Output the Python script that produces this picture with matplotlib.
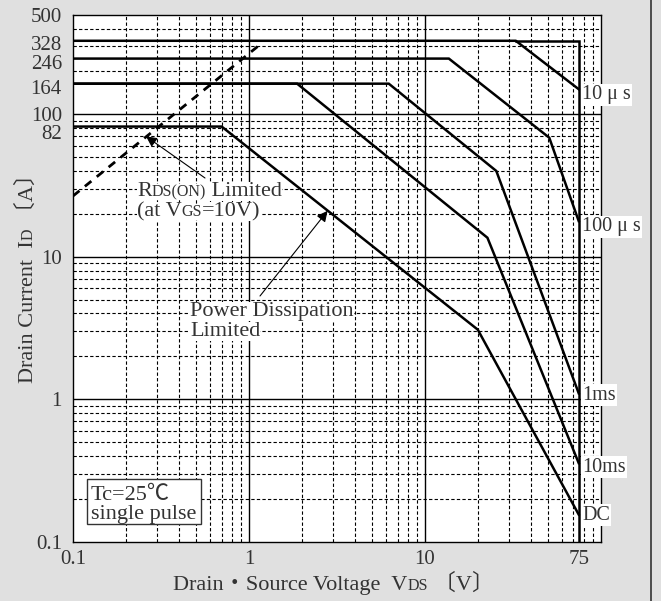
import numpy as np
import matplotlib
matplotlib.use("Agg")
import matplotlib.pyplot as plt
from matplotlib.ticker import FixedLocator, NullFormatter, LogLocator
from matplotlib.transforms import offset_copy, ScaledTranslation
from matplotlib.patches import Rectangle
from matplotlib.lines import Line2D

plt.rcParams['font.family'] = ['Liberation Serif', 'Noto Sans CJK JP', 'DejaVu Sans']

# safe operating area
v_10us = [0.1, 32.9, 75]
i_10us = [328, 328, 150]
v_100us = [0.1, 13.7, 51, 75]
i_100us = [246, 246, 68.5, 17.8]
v_1ms = [0.1, 6.24, 25.5, 75]
i_1ms = [164, 164, 40, 1.1]
v_10ms = [0.1, 1.88, 22.7, 75]
i_10ms = [164, 164, 13.6, 0.356]
v_dc = [0.1, 0.70, 20, 75]
i_dc = [82, 82, 3.08, 0.155]

# RDS(on) limit (dashed)
v_rds = [0.1, 1.17]
i_rds = [26.7, 312]

# outer limits: pulsed drain current and VDSS
v_lim = [32.9, 75, 75]
i_lim = [328, 328, 0.1]

curve_names = ['10 μ s', '100 μ s', '1ms', '10ms', 'DC']
y_ticks = [0.1, 1, 10, 82, 100, 164, 246, 328, 500]
y_ticklabels = ['0.1', '1', '10', '82', '100', '164', '246', '328', '500']
x_ticks = [0.1, 1, 10, 75]
x_ticklabels = ['0.1', '1', '10', '75']

W, H = 661, 601
TXT = '#333333'


def fpx(x, y):
    return x / W, 1 - y / H


fig = plt.figure(figsize=(W / 100, H / 100), dpi=100, facecolor='#e0e0e0')
ax = fig.add_axes([73 / W, 1 - 541.7 / H, (600.7 - 73) / W, (541.7 - 14.7) / H])
ax.set_facecolor('white')
ax.set_xscale('log')
ax.set_yscale('log')
ax.set_xlim(0.1, 100)
ax.set_ylim(0.1, 500)

# grid: dashed minors, solid decades
ax.xaxis.set_minor_locator(LogLocator(base=10, subs=np.arange(2, 10)))
ax.yaxis.set_minor_locator(LogLocator(base=10, subs=np.arange(2, 10)))
ax.xaxis.set_minor_formatter(NullFormatter())
ax.yaxis.set_minor_formatter(NullFormatter())
ax.grid(which='minor', color='black', lw=0.8, ls=(0, (3, 2)))
for d in [1, 10]:
    ax.axvline(d, color='black', lw=1.0)
for d in [1, 10, 100]:
    ax.axhline(d, color='black', lw=1.0)

ax.xaxis.set_major_locator(FixedLocator(x_ticks))
ax.set_xticklabels(x_ticklabels)
ax.yaxis.set_major_locator(FixedLocator(y_ticks))
ax.set_yticklabels(y_ticklabels)
ax.tick_params(which='both', length=0, labelsize=15, colors=TXT)
ax.tick_params(axis='y', pad=8)
ax.tick_params(axis='x', pad=6)
for s in ax.spines.values():
    s.set_linewidth(1.0)

# nudge crowded y labels down a little, like the original
shift = {'82': 5, '164': 3, '246': 3, '328': 2}
for lab in ax.get_yticklabels():
    dy = shift.get(lab.get_text(), 0)
    if dy:
        lab.set_transform(lab.get_transform() +
                          ScaledTranslation(0, -dy / 100, fig.dpi_scale_trans))

lw = 1.8
for v, i in [(v_10us, i_10us), (v_100us, i_100us), (v_1ms, i_1ms),
             (v_10ms, i_10ms), (v_dc, i_dc), (v_lim, i_lim)]:
    ax.plot(v, i, color='black', lw=lw, solid_joinstyle='miter', zorder=3)
ax.plot(v_rds, i_rds, color='black', lw=2.0, ls=(0, (3, 2.5)), zorder=3)

# curve labels on the right
label_y = [95, 227, 395, 467, 515]
for name, yy in zip(curve_names, label_y):
    fig.text(*fpx(582, yy), name, fontsize=14.5, color=TXT, ha='left', va='center',
             bbox=dict(boxstyle='square,pad=0.05', fc='white', ec='none'))


def rich(pieces, x0, y0, rot=0, box=True):
    r = fig.canvas.get_renderer()
    off = 0
    for s, fs in pieces:
        if rot:
            tr = offset_copy(fig.transFigure, fig=fig, x=0, y=off, units='dots')
        else:
            tr = offset_copy(fig.transFigure, fig=fig, x=off, y=0, units='dots')
        kw = {}
        if box:
            kw['bbox'] = dict(boxstyle='square,pad=0', fc='white', ec='none')
        t = fig.text(*fpx(x0, y0), s, fontsize=fs, color=TXT, transform=tr,
                     rotation=rot, rotation_mode='anchor', ha='left',
                     va='baseline', **kw)
        bb = t.get_window_extent(r)
        off += bb.height if rot else bb.width


big, small = 16, 11.5
rich([('R', big), ('DS(ON)', small), (' Limited', big)], 137, 196)
rich([('(at V', big), ('GS', small), ('=10V)', big)], 137, 216)
rich([('Power Dissipation', big)], 190, 316)
rich([('Limited', big)], 190, 336)

# axis labels
rich([('Drain・Source Voltage  V', big), ('DS', small), (' 〔V〕', big)],
     173, 590, box=False)
rich([('Drain Current  I', big), ('D', small), (' 〔A〕', big)],
     33, 383, rot=90, box=False)

# arrows
ax.annotate('', xy=(0.26, 70), xycoords='data',
            xytext=fpx(205, 178), textcoords='figure fraction',
            arrowprops=dict(arrowstyle='-|>', color='black', lw=0.8,
                            mutation_scale=16, shrinkA=0, shrinkB=0))
ax.annotate('', xy=(2.8, 21), xycoords='data',
            xytext=fpx(260, 296), textcoords='figure fraction',
            arrowprops=dict(arrowstyle='-|>', color='black', lw=0.8,
                            mutation_scale=16, shrinkA=0, shrinkB=0))

# condition box
bx0, by0 = fpx(87.3, 524)
bx1, by1 = fpx(201, 479)
fig.patches.append(Rectangle((bx0, by0), bx1 - bx0, by1 - by0,
                             transform=fig.transFigure, fc='white',
                             ec='#333333', lw=1.0, zorder=4))
fig.text(*fpx(91, 500), 'Tc=25℃', fontsize=big, color=TXT, va='baseline', zorder=5)
fig.text(*fpx(91, 519), 'single pulse', fontsize=big, color=TXT, va='baseline', zorder=5)

# frame line on the right edge
fig.lines.append(Line2D([651 / W, 651 / W], [0, 1], transform=fig.transFigure,
                        color='#333333', lw=1.2))

fig.savefig('out.png', dpi=100, facecolor=fig.get_facecolor())
